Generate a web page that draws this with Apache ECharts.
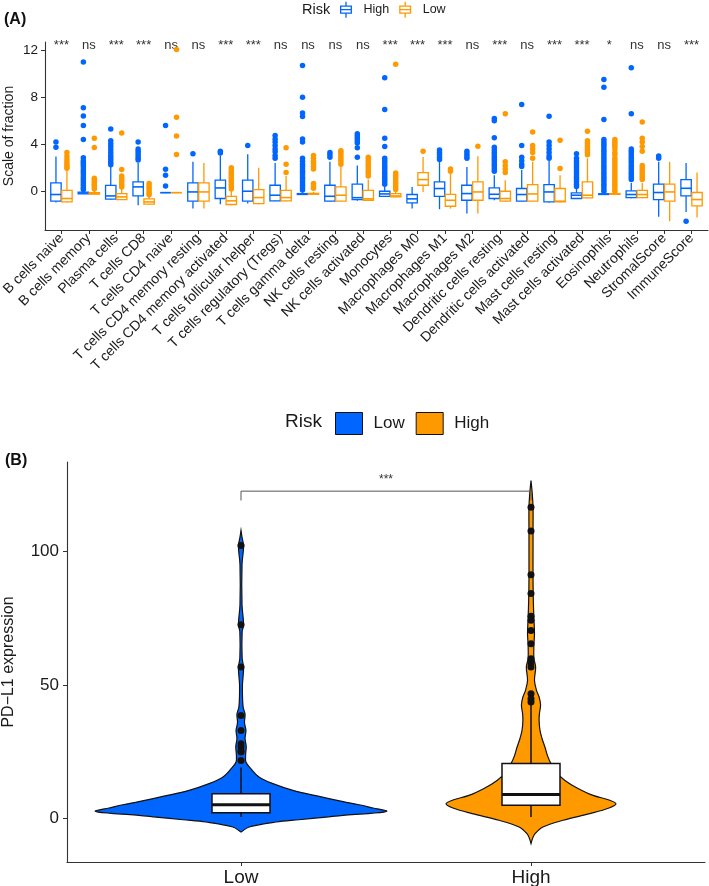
<!DOCTYPE html>
<html>
<head>
<meta charset="utf-8">
<title>Immune infiltration by risk</title>
<script src="https://cdn.jsdelivr.net/npm/echarts@6/dist/echarts.min.js"></script>
<style>
  html, body { margin: 0; padding: 0; background: #fff; }
  #chart { width: 709px; height: 886px; }
</style>
</head>
<body>
<div id="chart"></div>
<script>
// ---- panel A data ----
const categories = [
  'B cells naive', 'B cells memory', 'Plasma cells', 'T cells CD8', 'T cells CD4 naive',
  'T cells CD4 memory resting', 'T cells CD4 memory activated', 'T cells follicular helper',
  'T cells regulatory (Tregs)', 'T cells gamma delta', 'NK cells resting', 'NK cells activated',
  'Monocytes', 'Macrophages M0', 'Macrophages M1', 'Macrophages M2', 'Dendritic cells resting',
  'Dendritic cells activated', 'Mast cells resting', 'Mast cells activated', 'Eosinophils',
  'Neutrophils', 'StromalScore', 'ImmuneScore'
];
const sigLabels = ['***', 'ns', '***', '***', 'ns', 'ns', '***', '***', 'ns', 'ns', 'ns', 'ns',
  '***', '***', '***', 'ns', '***', 'ns', '***', '***', '*', 'ns', 'ns', '***'];

// [lower whisker, q1, median, q3, upper whisker]
const highBox = [
  [-0.95, -0.85, -0.28, 0.71, 2.95], [-0.25, -0.22, -0.15, -0.08, 0.05], [-0.75, -0.68, -0.4, 0.5, 2.1],
  [-1.19, -0.4, 0.37, 0.79, 2.4], [-0.12, -0.12, -0.12, -0.12, -0.12], [-1.48, -0.85, -0.06, 0.71, 2.5],
  [-1.1, -0.62, 0.28, 0.94, 3.05], [-1.05, -0.85, 0, 0.94, 3.15], [-0.85, -0.82, -0.34, 0.51, 2.4],
  [-0.3, -0.28, -0.25, -0.2, -0.1], [-0.9, -0.85, -0.43, 0.51, 2.5], [-0.8, -0.72, -0.55, 0.6, 2.2],
  [-0.5, -0.43, -0.23, 0, 0.4], [-1.48, -0.99, -0.65, -0.28, 0.37], [-1.53, -0.43, 0.23, 0.79, 2.5],
  [-1.9, -0.77, -0.2, 0.51, 2.07], [-0.77, -0.62, -0.26, 0.28, 1.36], [-0.9, -0.85, -0.28, 0.23, 1.8],
  [-0.95, -0.91, -0.06, 0.57, 2.6], [-0.65, -0.62, -0.34, -0.14, 0.2], [-0.3, -0.28, -0.25, -0.22, -0.15],
  [-0.6, -0.54, -0.28, 0.03, 0.7], [-2.18, -0.71, -0.11, 0.6, 2.5], [-1.76, -0.4, 0.25, 0.99, 2.41]
];
const lowBox = [
  [-0.95, -0.91, -0.62, 0.08, 1.8], [-0.28, -0.25, -0.2, -0.12, 0.05], [-0.75, -0.71, -0.48, -0.2, 0.2],
  [-1.15, -1.1, -0.91, -0.65, -0.45], [-0.12, -0.12, -0.12, -0.12, -0.12], [-1.48, -0.85, -0.06, 0.71, 2.41],
  [-1.19, -1.13, -0.82, -0.43, 0.0], [-1.1, -1.05, -0.54, 0.14, 1.99], [-0.85, -0.82, -0.54, 0.08, 1.3],
  [-0.28, -0.26, -0.22, -0.18, -0.05], [-0.9, -0.85, -0.34, 0.37, 2.1], [-0.8, -0.77, -0.65, 0.08, 1.0],
  [-0.52, -0.48, -0.4, -0.2, 0.1], [-0.06, 0.51, 0.99, 1.59, 2.92], [-1.48, -1.28, -0.77, -0.26, 1.5],
  [-1.9, -0.77, -0.06, 0.79, 2.98], [-0.9, -0.85, -0.62, 0, 0.94], [-0.9, -0.85, -0.23, 0.57, 2.5],
  [-0.95, -0.91, -0.85, 0.23, 1.36], [-0.62, -0.57, -0.34, 0.79, 2.8], [-0.28, -0.26, -0.24, -0.2, -0.15],
  [-0.6, -0.54, -0.28, 0.08, 0.7], [-2.55, -0.85, -0.06, 0.6, 2.5], [-2.24, -1.25, -0.71, -0.11, 1.59]
];
const highOut = [
  [4.2, 3.75],
  [11.0, 7.1, 6.4, 5.6, 4.4, 2.85, 2.6, 2.45, 2.3, 2.1, 1.9, 1.7, 1.5, 1.3, 1.1, 0.9, 0.7, 0.5, 0.3, 0.15],
  [5.3, 4.3, 4.05, 3.8, 3.55, 3.3, 3.05, 2.85, 2.65, 2.45, 2.25],
  [4.2, 3.6, 3.4, 3.2, 3.0, 2.8, 2.65],
  [5.6, 1.87, 1.36, 0.45],
  [3.2],
  [3.4, 3.25],
  [3.9],
  [4.75, 4.45, 4.2, 3.9, 3.6, 3.35, 3.05, 2.8],
  [10.7, 8.0, 6.65, 6.35, 4.45, 4.2, 2.8, 2.55, 2.3, 2.1, 1.9, 1.7, 1.5, 1.3, 1.1, 0.9, 0.7, 0.5, 0.3, 0.1],
  [3.3, 3.1, 2.9],
  [4.9, 4.7, 4.5, 4.3, 4.1, 3.7, 2.9],
  [9.65, 6.95, 4.5, 3.8, 2.8, 2.6, 2.4, 2.2, 2.0, 1.8, 1.6, 1.4, 1.2, 1.0, 0.8, 0.6],
  [],
  [3.5, 3.3, 3.1, 2.9, 2.7],
  [3.4, 3.2, 3.0, 2.8],
  [6.2, 6.0, 4.55, 3.75, 3.5, 3.3, 3.1, 2.9, 2.7, 2.5, 2.3, 2.1, 1.9, 1.7],
  [7.38, 3.9, 2.9, 2.6, 2.3, 2.1],
  [6.38, 4.2, 3.9, 3.6, 3.3, 3.0, 2.8],
  [3.2, 2.8, 2.6, 2.4, 2.2, 2.0, 1.8, 1.6, 1.4, 1.2, 1.0, 0.8, 0.6, 0.4],
  [9.5, 8.85, 6.1, 4.4, 4.2, 4.0, 3.8, 3.6, 3.4, 3.2, 3.0, 2.8, 2.6, 2.4, 2.2, 2.0, 1.8, 1.6, 1.4, 1.2, 1.0, 0.8, 0.6, 0.4, 0.2, 0.0],
  [10.5, 6.6, 3.6, 3.4, 3.2, 3.0, 2.8, 2.6, 2.4, 2.2, 2.0, 1.8, 1.6, 1.4, 1.2, 1.0],
  [3.0, 2.8],
  [-2.55]
];
const lowOut = [
  [3.3, 3.0, 2.75, 2.5, 2.3, 2.1, 1.95],
  [4.5, 3.72, 1.1, 0.95, 0.8, 0.65, 0.5, 0.35, 0.2],
  [4.95, 1.85, 1.3, 1.1, 0.9, 0.7, 0.5, 0.35],
  [0.65, 0.45, 0.25, 0.05, -0.15, -0.3],
  [12.06, 6.3, 4.71, 3.12],
  [],
  [2.0, 1.8, 1.6, 1.4, 1.2, 1.0, 0.8, 0.6, 0.4, 0.2],
  [],
  [3.7, 2.3, 1.6],
  [3.05, 2.8, 2.55, 2.35, 2.1, 1.9, 0.65, 0.45, 0.25],
  [3.45, 3.3, 3.1, 2.9, 2.7, 2.5, 2.3],
  [2.9, 2.7, 2.5, 2.3, 2.1, 1.9, 1.7, 1.5, 1.3],
  [10.8, 1.55, 1.35, 1.15, 0.95, 0.75, 0.55, 0.35, 0.15],
  [3.4],
  [1.9, 1.7],
  [3.83],
  [6.6, 2.5, 2.2, 1.9, 1.6],
  [5.05, 3.9, 3.6, 3.3, 2.8],
  [4.34, 1.93],
  [5.1, 4.3, 4.1, 3.9, 3.7, 3.5, 3.3, 3.1],
  [4.4, 4.2, 4.0, 3.8, 3.6, 3.3, 3.1, 2.8, 2.6, 2.4, 2.2, 2.0, 1.8, 1.6, 1.4, 1.2, 1.0, 0.8, 0.6, 0.4, 0.2, 0.0],
  [5.9, 4.5, 4.2, 3.8, 3.4, 2.2, 2.0, 1.8, 1.6, 1.4, 1.2, 1.0],
  [],
  []
];
const yTicksA = [0, 4, 8, 12];

// ---- panel B data ----
const groupsB = ['Low', 'High'];
const boxLowB = [0.6, 2.24, 5.2, 9.35, 19.1];
const boxHighB = [0.6, 5.0, 9.0, 20.6, 42.5];
const outLowB = [102.2, 72.5, 56.7, 38.6, 33.0, 28.0, 26.8, 25.3, 24.9, 21.8];
const outHighB = [116.5, 107.6, 91.2, 84.2, 75.7, 74.2, 70.4, 65.4, 59.8, 58.0, 56.7, 46.7, 44.9, 43.6];
// [value, half width of the density in x-axis units]
const violinLow = [
  [-5.0, 0], [-3.1, 0.028], [-1.25, 0.121], [-0.4, 0.2], [0.6, 0.293], [1.25, 0.352], [2.0, 0.448],
  [2.8, 0.503], [4.0, 0.455], [5.2, 0.407], [6.4, 0.352], [8.5, 0.262], [10.6, 0.179], [13.1, 0.11],
  [15.6, 0.062], [18.7, 0.034], [21.2, 0.017], [24, 0.016], [27, 0.018], [30, 0.014], [33, 0.017],
  [36, 0.012], [39, 0.014], [42, 0.007], [50, 0.005], [56.5, 0.009], [60, 0.004], [70, 0.004],
  [72.5, 0.009], [80, 0.0035], [95, 0.0035], [102, 0.009], [105, 0.004], [107.8, 0]
];
const violinHigh = [
  [-9.35, 0], [-7.5, 0.005], [-5.6, 0.014], [-3.1, 0.041], [-0.6, 0.11], [1.9, 0.203], [4.0, 0.269],
  [5.6, 0.293], [7.0, 0.269], [8.7, 0.214], [11.5, 0.159], [14.3, 0.117], [17.5, 0.086], [20.6, 0.069],
  [23.5, 0.057], [26.8, 0.048], [30, 0.038], [33, 0.031], [36.5, 0.028], [39.3, 0.029], [42.5, 0.033],
  [45.5, 0.028], [48, 0.019], [51.7, 0.012], [56.7, 0.016], [60, 0.01], [65, 0.01], [69.2, 0.012],
  [75, 0.01], [81.7, 0.008], [90, 0.007], [100, 0.007], [107, 0.007], [116.5, 0.007], [122, 0.004], [126.5, 0]
];
const yTicksB = [0, 50, 100];
const sigB = '***';

// ---- styling ----
const BLUE = '#0066FF';
const ORANGE = '#FF9900';
const AXIS = '#333333';
const TXT = '#1a1a1a';
const FONT = 'Liberation Sans, Arial, Helvetica, sans-serif';
const DODGE = 0.2;
const HALF_A = 0.19;
const HALF_B = 0.1;

const chart = echarts.init(document.getElementById('chart'), null, { renderer: 'canvas' });

function boxRender(stroke, fill, lw, medLw, half) {
  return function (params, api) {
    const x = api.value(0);
    const xc = api.coord([x, 0])[0];
    const xl = api.coord([x - half, 0])[0];
    const xr = api.coord([x + half, 0])[0];
    const yLo = api.coord([x, api.value(1)])[1];
    const yQ1 = api.coord([x, api.value(2)])[1];
    const yMd = api.coord([x, api.value(3)])[1];
    const yQ3 = api.coord([x, api.value(4)])[1];
    const yHi = api.coord([x, api.value(5)])[1];
    const ls = { stroke: stroke, lineWidth: lw, fill: null };
    return {
      type: 'group',
      children: [
        { type: 'line', shape: { x1: xc, y1: yHi, x2: xc, y2: yQ3 }, style: ls },
        { type: 'line', shape: { x1: xc, y1: yQ1, x2: xc, y2: yLo }, style: ls },
        { type: 'rect', shape: { x: xl, y: yQ3, width: xr - xl, height: yQ1 - yQ3 },
          style: { stroke: stroke, lineWidth: lw, fill: fill } },
        { type: 'line', shape: { x1: xl, y1: yMd, x2: xr, y2: yMd },
          style: { stroke: stroke, lineWidth: medLw } }
      ]
    };
  };
}

function boxData(list, shift) {
  return list.map((b, i) => [i + 1 + shift].concat(b));
}
function outData(list, shift) {
  const out = [];
  list.forEach((vals, i) => vals.forEach(v => out.push([i + 1 + shift, v])));
  return out;
}

function violinRender(params, api) {
  const idx = Math.round(api.value(0)) - 1;
  const x = api.value(0);
  const outline = violins[idx];
  const right = outline.map(p => api.coord([x + p[1], p[0]]));
  const left = outline.slice().reverse().map(p => api.coord([x - p[1], p[0]]));
  return {
    type: 'polygon',
    shape: { points: right.concat(left), smooth: 0.35 },
    style: { fill: violinColors[idx], stroke: '#111', lineWidth: 1.2 }
  };
}

const tickPosA = categories.map((c, i) => i + 1);
const tickPosB = groupsB.map((g, i) => i + 1);
const violins = [violinLow, violinHigh];
const violinColors = [BLUE, ORANGE];
const boxGlyph = 'path://M6,0L6,5M0,5L12,5L12,13L0,13ZM0,9L12,9M6,13L6,18';

const option = {
  animation: false,
  textStyle: { fontFamily: FONT },
  grid: [
    { left: 45, right: 1, top: 42, bottom: 656, containLabel: false, outerBoundsMode: 'none' },
    { left: 67, right: 4, top: 462, bottom: 24, containLabel: false, outerBoundsMode: 'none' }
  ],
  legend: [
    {
      left: 340, top: 1, padding: 0, itemWidth: 17, itemHeight: 16, itemGap: 10, selectedMode: false,
      formatter: n => n.slice(2),
      textStyle: { fontSize: 12.5, color: TXT, fontFamily: FONT, padding: [0, 0, 0, 4] },
      data: [
        { name: 'A-High', icon: boxGlyph, itemStyle: { color: 'transparent', borderColor: BLUE, borderWidth: 1.3 } },
        { name: 'A-Low', icon: boxGlyph, itemStyle: { color: 'transparent', borderColor: ORANGE, borderWidth: 1.3 } }
      ]
    },
    {
      left: 335, top: 412, padding: 0, itemWidth: 27, itemHeight: 22, itemGap: 11, selectedMode: false,
      formatter: n => n.slice(2),
      textStyle: { fontSize: 17, color: TXT, fontFamily: FONT, padding: [0, 0, 0, 6] },
      data: [
        { name: 'B-Low', icon: 'rect', itemStyle: { color: BLUE, borderColor: '#111', borderWidth: 1 } },
        { name: 'B-High', icon: 'rect', itemStyle: { color: ORANGE, borderColor: '#111', borderWidth: 1 } }
      ]
    }
  ],
  graphic: [
    { type: 'text', left: 4, top: 12, style: { text: '(A)', font: 'bold 16px ' + FONT, fill: '#111' } },
    { type: 'text', left: 302, top: 2, style: { text: 'Risk', font: '14.5px ' + FONT, fill: TXT } },
    { type: 'text', left: 5, top: 453, style: { text: '(B)', font: 'bold 16px ' + FONT, fill: '#111' } },
    { type: 'text', left: 285, top: 412, style: { text: 'Risk', font: '19px ' + FONT, fill: TXT } }
  ],
  xAxis: [
    {
      type: 'value', gridIndex: 0, min: 0.4, max: 24.6,
      axisLine: { show: true, onZero: false, lineStyle: { color: AXIS, width: 1.1 } },
      axisTick: { show: true, length: 4, customValues: tickPosA, lineStyle: { color: AXIS, width: 1 } },
      axisLabel: {
        customValues: tickPosA, rotate: 45, margin: 6, fontSize: 14, color: TXT, fontFamily: FONT,
        formatter: v => categories[Math.round(v) - 1]
      },
      splitLine: { show: false }
    },
    {
      type: 'value', gridIndex: 1, min: 0.4, max: 2.6,
      axisLine: { show: true, onZero: false, lineStyle: { color: AXIS, width: 1.1 } },
      axisTick: { show: true, length: 4, customValues: tickPosB, lineStyle: { color: AXIS, width: 1 } },
      axisLabel: {
        customValues: tickPosB, margin: 6, fontSize: 19, color: TXT, fontFamily: FONT,
        formatter: v => groupsB[Math.round(v) - 1]
      },
      splitLine: { show: false }
    }
  ],
  yAxis: [
    {
      type: 'value', gridIndex: 0, min: -3.3, max: 12.7,
      name: 'Scale of fraction', nameLocation: 'middle', nameGap: 29, nameRotate: 90, nameMoveOverlap: false,
      nameTextStyle: { fontSize: 14, color: TXT, fontFamily: FONT },
      axisLine: { show: true, onZero: false, lineStyle: { color: AXIS, width: 1.1 } },
      axisTick: { show: true, length: 4, customValues: yTicksA, lineStyle: { color: AXIS, width: 1 } },
      axisLabel: { customValues: yTicksA, margin: 7, fontSize: 13.5, color: TXT, fontFamily: FONT },
      splitLine: { show: false }
    },
    {
      type: 'value', gridIndex: 1, min: -16.2, max: 133.4,
      name: 'PD\u2212L1 expression', nameLocation: 'middle', nameGap: 50, nameRotate: 90, nameMoveOverlap: false,
      nameTextStyle: { fontSize: 16, color: TXT, fontFamily: FONT },
      axisLine: { show: true, onZero: false, lineStyle: { color: AXIS, width: 1.1 } },
      axisTick: { show: true, length: 4, customValues: yTicksB, lineStyle: { color: AXIS, width: 1 } },
      axisLabel: { customValues: yTicksB, margin: 8, fontSize: 17, color: TXT, fontFamily: FONT },
      splitLine: { show: false }
    }
  ],
  series: [
    // ---- panel A ----
    {
      name: 'A-High', type: 'custom', xAxisIndex: 0, yAxisIndex: 0,
      renderItem: boxRender(BLUE, '#fff', 1.3, 1.6, HALF_A),
      data: boxData(highBox, -DODGE), encode: { x: 0, y: [1, 5] }
    },
    {
      name: 'A-Low', type: 'custom', xAxisIndex: 0, yAxisIndex: 0,
      renderItem: boxRender(ORANGE, '#fff', 1.3, 1.6, HALF_A),
      data: boxData(lowBox, DODGE), encode: { x: 0, y: [1, 5] }
    },
    {
      name: 'A-High', type: 'scatter', xAxisIndex: 0, yAxisIndex: 0, symbolSize: 5.5,
      itemStyle: { color: BLUE, opacity: 1 }, data: outData(highOut, -DODGE)
    },
    {
      name: 'A-Low', type: 'scatter', xAxisIndex: 0, yAxisIndex: 0, symbolSize: 5.5,
      itemStyle: { color: ORANGE, opacity: 1 }, data: outData(lowOut, DODGE)
    },
    {
      name: 'sigA', type: 'custom', xAxisIndex: 0, yAxisIndex: 0, silent: true,
      data: sigLabels.map((s, i) => [i + 1, 12.37]),
      renderItem: function (params, api) {
        const p = api.coord([api.value(0), api.value(1)]);
        return {
          type: 'text', x: p[0], y: p[1],
          style: { text: sigLabels[params.dataIndex], font: '13px ' + FONT, fill: '#333',
            align: 'center', verticalAlign: 'middle' }
        };
      }
    },
    // ---- panel B ----
    {
      name: 'B-Low', type: 'custom', xAxisIndex: 1, yAxisIndex: 1,
      data: [[1]],
      renderItem: violinRender
    },
    {
      name: 'B-High', type: 'custom', xAxisIndex: 1, yAxisIndex: 1,
      data: [[2]],
      renderItem: violinRender
    },
    {
      name: 'B-box', type: 'custom', xAxisIndex: 1, yAxisIndex: 1,
      renderItem: boxRender('#111', '#fff', 1.5, 3, HALF_B),
      data: [[1].concat(boxLowB), [2].concat(boxHighB)], encode: { x: 0, y: [1, 5] }
    },
    {
      name: 'B-out', type: 'scatter', xAxisIndex: 1, yAxisIndex: 1, symbolSize: 7,
      itemStyle: { color: '#111', opacity: 1 },
      data: outLowB.map(v => [1, v]).concat(outHighB.map(v => [2, v]))
    },
    {
      name: 'B-sig', type: 'custom', xAxisIndex: 1, yAxisIndex: 1, silent: true,
      data: [[1, 2, 119, 122.5, 126.9]],
      renderItem: function (params, api) {
        const a = api.coord([api.value(0), api.value(2)]);
        const b = api.coord([api.value(0), api.value(3)]);
        const c = api.coord([api.value(1), api.value(3)]);
        const d = api.coord([api.value(1), api.value(2)]);
        const t = api.coord([(api.value(0) + api.value(1)) / 2, api.value(4)]);
        return {
          type: 'group',
          children: [
            { type: 'polyline', shape: { points: [a, b, c, d] },
              style: { stroke: '#555', lineWidth: 1, fill: null } },
            { type: 'text', x: t[0], y: t[1],
              style: { text: sigB, font: '12px ' + FONT, fill: '#333', align: 'center', verticalAlign: 'middle' } }
          ]
        };
      }
    }
  ]
};

chart.setOption(option);
window.addEventListener('resize', () => chart.resize());
</script>
</body>
</html>
